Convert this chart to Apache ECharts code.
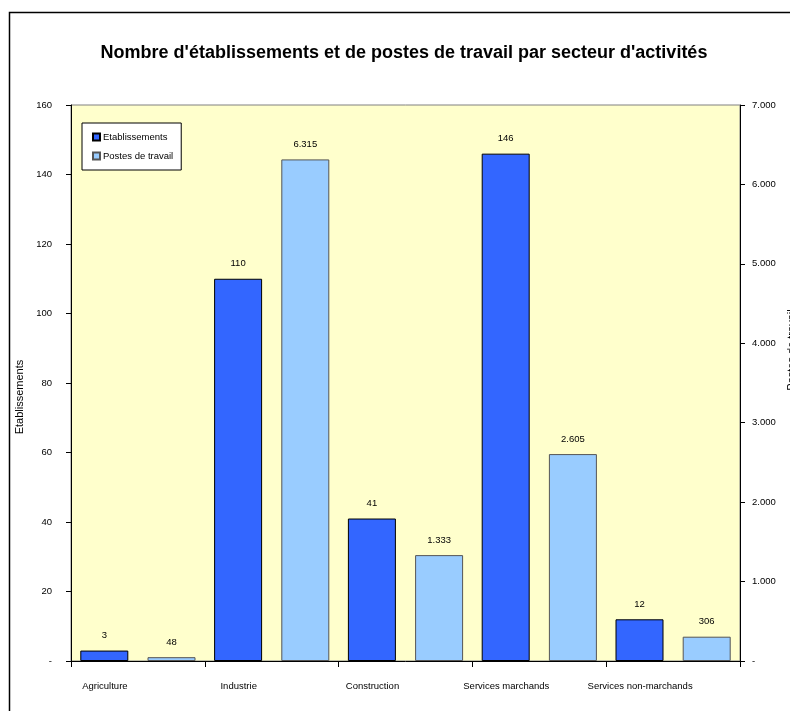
<!DOCTYPE html>
<html>
<head>
<meta charset="utf-8">
<script src="https://cdn.jsdelivr.net/npm/echarts@6/dist/echarts.min.js"></script>
<style>
html,body{margin:0;padding:0;background:#fff;}
#c{width:790px;height:711px;}
</style>
</head>
<body>
<div id="c"></div>
<script>
var categories = ['Agriculture', 'Industrie', 'Construction', 'Services marchands', 'Services non-marchands'];
var etablissements = [3, 110, 41, 146, 12];
var postes = [48, 6315, 1333, 2605, 306];

var FONT = '"Liberation Sans Narrow", "Liberation Sans", Arial, sans-serif';
function fmt(v) {
  if (v === 0) return '-';
  return String(v).replace(/\B(?=(\d{3})+(?!\d))/g, '.');
}

var chart = echarts.init(document.getElementById('c'));
chart.setOption({
  backgroundColor: '#fff',
  textStyle: { fontFamily: FONT },
  title: {
    text: "Nombre d'établissements et de postes de travail par secteur d'activités",
    left: 399, textAlign: 'center', top: 39,
    textStyle: { fontFamily: FONT, fontSize: 18, fontWeight: 'bold', color: '#000' }
  },
  graphic: [{
    type: 'rect', left: 7, top: 10, silent: true,
    shape: { width: 800, height: 720 },
    style: { fill: 'none', stroke: '#000', lineWidth: 1.5 }
  }],
  legend: {
    orient: 'vertical', left: 82, top: 123,
    backgroundColor: '#fff', borderColor: '#000', borderWidth: 1,
    padding: [9, 8, 9, 10], itemGap: 9,
    itemWidth: 7, itemHeight: 7, icon: 'rect',
    textStyle: { fontFamily: FONT, fontSize: 9.5, color: '#000', padding: [0, 0, 0, -2] },
    data: ['Etablissements', 'Postes de travail']
  },
  grid: {
    left: 71, right: 50, top: 105, bottom: 50, outerBoundsMode: 'none', containLabel: false,
    show: true, backgroundColor: '#FFFFCC', borderColor: '#808080', borderWidth: 1
  },
  xAxis: {
    type: 'category', data: categories,
    axisLine: { lineStyle: { color: '#000' } },
    axisTick: { show: true, interval: 0, length: 6, lineStyle: { color: '#000' } },
    axisLabel: { interval: 0, margin: 20, fontSize: 9.5, color: '#000', fontFamily: FONT, padding: [0, 66, 0, 0] }
  },
  yAxis: [{
    type: 'value', min: 0, max: 160, interval: 20,
    name: 'Etablissements', nameLocation: 'middle', nameGap: 42, nameRotate: 90,
    nameTextStyle: { fontFamily: FONT, fontSize: 11, color: '#000', padding: [0, 28, 0, 0] },
    axisLine: { show: true, lineStyle: { color: '#000' } },
    axisTick: { show: true, length: 5, lineStyle: { color: '#000' } },
    splitLine: { show: false },
    axisLabel: { fontSize: 9.5, color: '#000', fontFamily: FONT, margin: 19, formatter: fmt }
  }, {
    type: 'value', min: 0, max: 7000, interval: 1000, position: 'right',
    name: 'Postes de travail', nameLocation: 'middle', nameGap: 42, nameRotate: 90,
    nameTextStyle: { fontFamily: FONT, fontSize: 11, color: '#000', padding: [0, 0, 0, 66] },
    axisLine: { show: true, lineStyle: { color: '#000' } },
    axisTick: { show: true, length: 5, lineStyle: { color: '#000' } },
    splitLine: { show: false },
    axisLabel: { fontSize: 9.5, color: '#000', fontFamily: FONT, margin: 12, formatter: fmt }
  }],
  series: [{
    name: 'Etablissements', type: 'bar', yAxisIndex: 0, data: etablissements,
    barWidth: 48, barGap: '40%',
    itemStyle: { color: '#3366FF', borderColor: '#000', borderWidth: 1 },
    label: { show: true, position: 'top', distance: 10, fontSize: 9.5, color: '#000', fontFamily: FONT, formatter: function (p) { return fmt(p.value); } }
  }, {
    name: 'Postes de travail', type: 'bar', yAxisIndex: 1, data: postes,
    barWidth: 48,
    itemStyle: { color: '#99CCFF', borderColor: '#555', borderWidth: 1 },
    label: { show: true, position: 'top', distance: 10, fontSize: 9.5, color: '#000', fontFamily: FONT, formatter: function (p) { return fmt(p.value); } }
  }]
});
</script>
</body>
</html>
